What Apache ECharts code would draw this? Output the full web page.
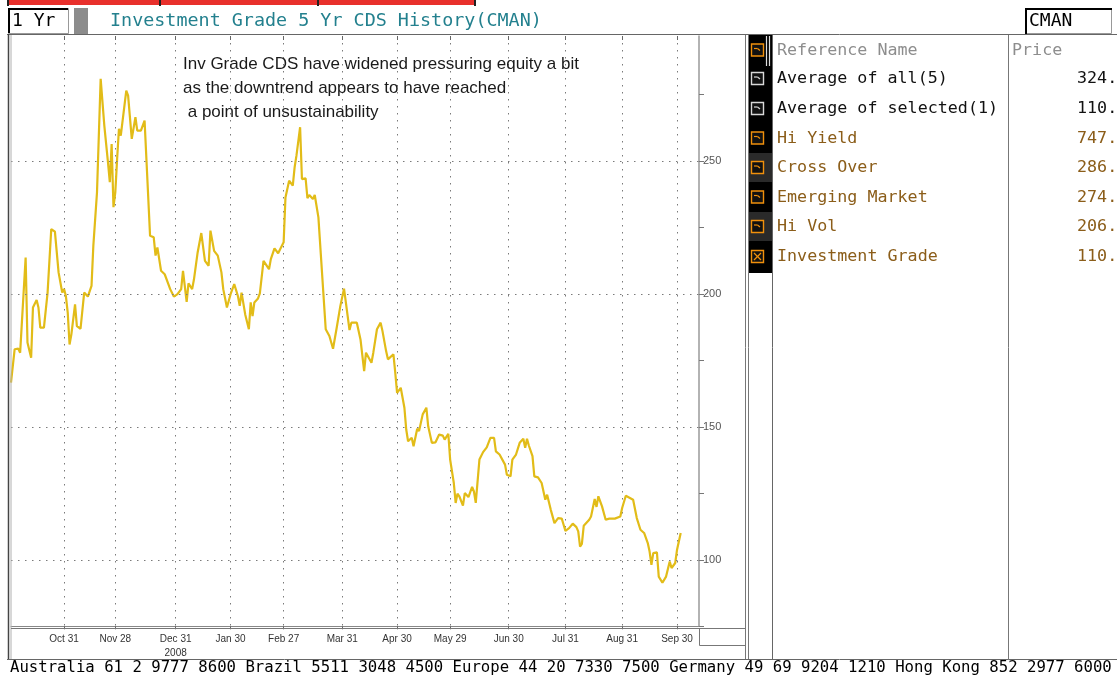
<!DOCTYPE html>
<html><head><meta charset="utf-8">
<script src="https://cdn.jsdelivr.net/npm/echarts@6/dist/echarts.min.js"></script>
<style>html,body{margin:0;padding:0;background:#fff;}#c{width:1117px;height:677px;}</style>
</head><body><div id="c"></div>
<script>
// ---------- data ----------
const axisStart = '2007-10-02';
const axisEnd = '2008-10-12';
const seriesDates = ['2007-10-02','2007-10-03','2007-10-04','2007-10-06','2007-10-07','2007-10-10','2007-10-11','2007-10-13','2007-10-14','2007-10-16','2007-10-17','2007-10-18','2007-10-20','2007-10-22','2007-10-24','2007-10-26','2007-10-28','2007-10-30','2007-10-31','2007-11-01','2007-11-02','2007-11-03','2007-11-04','2007-11-06','2007-11-07','2007-11-09','2007-11-10','2007-11-11','2007-11-13','2007-11-15','2007-11-16','2007-11-18','2007-11-20','2007-11-22','2007-11-24','2007-11-25','2007-11-26','2007-11-27','2007-11-28','2007-11-29','2007-11-30','2007-12-01','2007-12-04','2007-12-05','2007-12-07','2007-12-09','2007-12-10','2007-12-12','2007-12-14','2007-12-17','2007-12-19','2007-12-20','2007-12-21','2007-12-23','2007-12-25','2007-12-27','2007-12-28','2007-12-30','2008-01-01','2008-01-03','2008-01-04','2008-01-06','2008-01-07','2008-01-09','2008-01-10','2008-01-12','2008-01-14','2008-01-16','2008-01-18','2008-01-19','2008-01-21','2008-01-23','2008-01-25','2008-01-26','2008-01-28','2008-01-30','2008-02-01','2008-02-03','2008-02-04','2008-02-05','2008-02-07','2008-02-09','2008-02-10','2008-02-11','2008-02-12','2008-02-14','2008-02-15','2008-02-17','2008-02-20','2008-02-21','2008-02-23','2008-02-25','2008-02-26','2008-02-28','2008-02-29','2008-03-02','2008-03-04','2008-03-05','2008-03-06','2008-03-08','2008-03-09','2008-03-11','2008-03-12','2008-03-13','2008-03-15','2008-03-16','2008-03-18','2008-03-19','2008-03-22','2008-03-24','2008-03-26','2008-03-28','2008-03-30','2008-04-01','2008-04-02','2008-04-04','2008-04-05','2008-04-08','2008-04-10','2008-04-12','2008-04-13','2008-04-16','2008-04-17','2008-04-19','2008-04-21','2008-04-22','2008-04-24','2008-04-25','2008-04-28','2008-04-29','2008-04-30','2008-05-02','2008-05-04','2008-05-05','2008-05-06','2008-05-08','2008-05-09','2008-05-11','2008-05-12','2008-05-14','2008-05-16','2008-05-17','2008-05-19','2008-05-21','2008-05-23','2008-05-25','2008-05-26','2008-05-28','2008-05-29','2008-05-31','2008-06-01','2008-06-02','2008-06-03','2008-06-05','2008-06-06','2008-06-08','2008-06-10','2008-06-11','2008-06-12','2008-06-14','2008-06-16','2008-06-18','2008-06-20','2008-06-22','2008-06-23','2008-06-25','2008-06-26','2008-06-28','2008-06-29','2008-07-01','2008-07-02','2008-07-04','2008-07-06','2008-07-08','2008-07-09','2008-07-10','2008-07-11','2008-07-13','2008-07-14','2008-07-16','2008-07-18','2008-07-20','2008-07-21','2008-07-23','2008-07-24','2008-07-25','2008-07-27','2008-07-29','2008-07-30','2008-07-31','2008-08-02','2008-08-04','2008-08-06','2008-08-07','2008-08-08','2008-08-09','2008-08-10','2008-08-13','2008-08-14','2008-08-16','2008-08-17','2008-08-18','2008-08-20','2008-08-22','2008-08-24','2008-08-25','2008-08-27','2008-08-28','2008-08-30','2008-08-31','2008-09-02','2008-09-03','2008-09-06','2008-09-08','2008-09-10','2008-09-12','2008-09-14','2008-09-15','2008-09-16','2008-09-17','2008-09-19','2008-09-20','2008-09-22','2008-09-24','2008-09-26','2008-09-27','2008-09-29','2008-09-30','2008-10-02'];
const seriesValues = [166.6,167.2,179.2,179.4,177.9,213.7,181.7,176.0,194.9,197.7,194.9,187.3,187.3,200.5,224.4,223.4,208.1,200.5,201.8,199.2,193.0,181.0,184.8,196.1,187.9,186.9,186.7,200.5,199.0,203.0,218.1,238.2,280.9,263.3,249.5,242.0,256.4,232.6,238.2,250.8,262.1,259.5,276.5,274.6,258.3,266.5,261.4,261.4,265.2,221.9,221.3,214.4,217.5,208.7,207.4,203.7,201.8,199.0,199.9,201.8,208.7,197.0,204.0,201.8,205.5,215.6,222.9,212.4,210.6,223.8,216.2,214.4,208.1,201.8,194.9,199.9,203.7,199.2,195.5,200.5,192.3,186.7,196.8,191.7,196.8,198.3,200.2,212.4,209.3,213.1,217.1,215.3,215.6,219.4,236.3,242.6,240.7,247.6,252.0,262.7,243.2,243.5,236.0,237.2,235.7,237.2,228.8,228.8,186.7,184.2,179.4,187.3,195.5,202.0,196.8,186.4,189.2,189.2,182.9,171.0,177.9,174.1,177.9,186.7,189.2,186.1,178.5,175.4,177.3,170.4,162.8,164.7,157.2,149.0,144.6,145.9,142.7,149.3,148.4,154.7,157.2,150.2,144.0,144.2,147.1,146.7,145.2,147.4,137.7,128.9,121.4,124.9,123.9,120.4,125.1,123.6,127.4,125.7,121.4,137.7,140.5,142.3,145.9,145.9,140.8,139.6,139.8,135.8,132.0,131.4,137.7,139.6,144.0,145.5,142.1,145.5,143.0,139.0,131.4,131.0,128.9,122.6,124.5,118.8,118.2,113.8,115.7,115.5,113.2,110.9,111.9,113.6,112.3,110.7,105.0,106.0,112.8,115.1,116.3,122.9,119.9,123.9,120.1,115.1,115.5,115.9,115.5,114.8,116.3,119.5,124.1,124.5,122.6,115.7,111.3,110.1,106.3,103.1,98.1,102.5,102.8,93.7,91.4,93.7,99.4,96.9,98.8,103.8,110.1];
const tickDates = ['2007-10-31','2007-11-28','2007-12-31','2008-01-30','2008-02-28','2008-03-31','2008-04-30','2008-05-29','2008-06-30','2008-07-31','2008-08-31','2008-09-30'];
const tickLabels = ['Oct 31','Nov 28','Dec 31\n2008','Jan 30','Feb 27','Mar 31','Apr 30','May 29','Jun 30','Jul 31','Aug 31','Sep 30'];
const yTickValues = [100, 150, 200, 250];
const titleText = 'Investment Grade 5 Yr CDS History(CMAN)';
const noteLines = ['Inv Grade CDS have widened pressuring equity a bit', 'as the downtrend appears to have reached', ' a point of unsustainability'];
const panelHeader = ['Reference Name', 'Price'];
const panelNames = ['Average of all(5)', 'Average of selected(1)', 'Hi Yield', 'Cross Over', 'Emerging Market', 'Hi Vol', 'Investment Grade'];
const panelPrices = ['324.', '110.', '747.', '286.', '274.', '206.', '110.'];
const tickerText = 'Australia 61 2 9777 8600 Brazil 5511 3048 4500 Europe 44 20 7330 7500 Germany 49 69 9204 1210 Hong Kong 852 2977 6000';

// ---------- axis scaffolding ----------
const days = [];
for (let t = Date.parse(axisStart + 'T00:00:00Z'); t <= Date.parse(axisEnd + 'T00:00:00Z'); t += 86400000) {
  days.push(new Date(t).toISOString().slice(0, 10));
}
const valueByDate = {};
seriesDates.forEach((d, i) => { valueByDate[d] = seriesValues[i]; });
const lineData = days.map(d => (d in valueByDate ? valueByDate[d] : null));
const isTick = (idx, val) => tickDates.indexOf(val) >= 0;

// ---------- graphic helpers ----------
const G = [];
const mono = '"DejaVu Sans Mono", monospace';
function rect(x, y, w, h, fill, stroke, lw) {
  G.push({ type: 'rect', shape: { x, y, width: w, height: h }, style: { fill: fill || 'none', stroke: stroke || null, lineWidth: lw || 1 }, silent: true, z: 50 });
}
function line(x1, y1, x2, y2, color, w) {
  G.push({ type: 'line', shape: { x1, y1, x2, y2 }, style: { stroke: color, lineWidth: w || 1 }, silent: true, z: 51 });
}
function text(x, y, s, font, color, align) {
  G.push({ type: 'text', x, y, style: { text: s, font, fill: color, align: align || 'left', verticalAlign: 'middle' }, silent: true, z: 52 });
}

// top red toolbar fragment
rect(8, 0, 468, 5, '#e8302c');
[8, 160, 318, 475].forEach(x => line(x, 0, x, 6, '#222', 2));
// "1 Yr" box
rect(8.5, 8.5, 60, 25, '#fff', '#999', 1);
line(8, 9, 68, 9, '#000', 2); line(9, 8, 9, 33, '#000', 2);
text(12, 21, '1 Yr', '18px ' + mono, '#000');
rect(74, 8, 14, 26, '#8c8c8c');
text(110, 21, titleText, '18.4px ' + mono, '#23808e');
// CMAN box
rect(1025.5, 8.5, 86, 25, '#fff', '#999', 1);
line(1025, 9, 1112, 9, '#000', 2); line(1026, 8, 1026, 34, '#000', 2);
text(1029, 21, 'CMAN', '18px ' + mono, '#000');

// chart frame
line(7, 34.5, 1117, 34.5, '#666', 1);
line(8.5, 34, 8.5, 660, '#444', 1.5);
line(11, 35, 11, 660, '#b0b0b0', 1);
line(745.5, 35, 745.5, 660, '#777', 1);
line(748.5, 35, 748.5, 660, '#777', 1);
line(11, 628.5, 745, 628.5, '#777', 1);
rect(699.5, 628.5, 46, 17, null, '#777', 1);
line(7, 659.5, 1117, 659.5, '#666', 1);

// right panel
rect(749, 35, 23, 238, '#000');
rect(749, 153, 23, 29, '#2a2a2a');
rect(749, 212, 23, 29, '#2a2a2a');
line(772.5, 35, 772.5, 660, '#666', 1);
line(1008.5, 35, 1008.5, 660, '#777', 1);
line(766.5, 36, 766.5, 66, '#ddd', 1.2);
line(769.5, 36, 769.5, 66, '#ddd', 1.2);
const rowY = [50.5, 79, 109, 138.5, 168, 197.5, 227, 257];
const pfont = '16.7px ' + mono;
text(777, rowY[0], panelHeader[0], pfont, '#8d8d8d');
text(1012, rowY[0], panelHeader[1], pfont, '#8d8d8d');
rowY.forEach((y, i) => {
  const isAvg = (i === 1 || i === 2);
  const c = isAvg ? '#d8d8d8' : '#f0900c';
  rect(751.5, y - 6.5, 12, 12, '#111', c, 1.4);
  if (i === 7) {
    line(754, y - 4, 761, y + 3, c, 1.3); line(761, y - 4, 754, y + 3, c, 1.3);
  } else {
    line(754, y - 2, 757.5, y - 2, c, 1.2); line(757.5, y - 2, 760, y, c, 1.2);
  }
  if (i > 0) {
    const col = isAvg ? '#111' : '#8b5d19';
    text(777, y, panelNames[i - 1], pfont, col);
    text(1077, y, panelPrices[i - 1], pfont, col);
  }
});

// annotation
noteLines.forEach((s, i) => text(183, 64 + i * 24, s, '17px "Liberation Sans", Arial, sans-serif', '#1a1a1a'));

// ticker
text(10, 668, tickerText, '15.65px ' + mono, '#000');

// ---------- chart ----------
const chart = echarts.init(document.getElementById('c'), null, { renderer: 'canvas' });
const gridDot = { color: '#7a7a7a', width: 1, type: [1.5, 5.5] };
chart.setOption({
  animation: false,
  backgroundColor: '#fff',
  grid: { left: 11, right: 418, top: 36, bottom: 50.7, containLabel: false },
  xAxis: [{
    type: 'category', data: days, boundaryGap: false, position: 'bottom',
    axisLine: { show: true, lineStyle: { color: '#888', width: 1 } },
    axisTick: { show: true, interval: isTick, length: 3, lineStyle: { color: '#666' } },
    axisLabel: {
      show: true, interval: isTick, margin: 6, color: '#333', fontSize: 10, lineHeight: 14,
      fontFamily: '"Liberation Sans Narrow", "Liberation Sans", sans-serif',
      formatter: (v) => { const k = tickDates.indexOf(v); return k >= 0 ? tickLabels[k] : ''; }
    },
    splitLine: { show: true, interval: isTick, lineStyle: gridDot }
  }, {
    type: 'category', data: days, boundaryGap: false, position: 'top',
    axisLine: { show: false },
    axisTick: { show: true, inside: true, interval: isTick, length: 4, lineStyle: { color: '#666' } },
    axisLabel: { show: false }, splitLine: { show: false }
  }],
  yAxis: {
    type: 'value', position: 'right', min: 75, max: 297, interval: 25,
    axisLine: { show: true, lineStyle: { color: '#9a9a9a', width: 1.5 } },
    axisTick: { show: true, length: 5, lineStyle: { color: '#777' } },
    axisLabel: {
      show: true, margin: 4, color: '#555', fontSize: 11, showMaxLabel: false,
      fontFamily: '"Liberation Sans Narrow", "Liberation Sans", sans-serif',
      formatter: (v) => (yTickValues.indexOf(v) >= 0 ? String(v) : '')
    },
    splitLine: { show: false }
  },
  series: [{
    type: 'line', data: [], silent: true, z: 1,
    markLine: { silent: true, symbol: 'none', label: { show: false }, lineStyle: gridDot,
      data: yTickValues.map(v => ({ yAxis: v })) }
  }, {
    type: 'line', data: lineData, connectNulls: true, showSymbol: false, z: 3,
    lineStyle: { color: '#e2bc18', width: 2.2 }, itemStyle: { color: '#e2bc18' }
  }],
  graphic: { elements: G }
});
</script></body></html>
